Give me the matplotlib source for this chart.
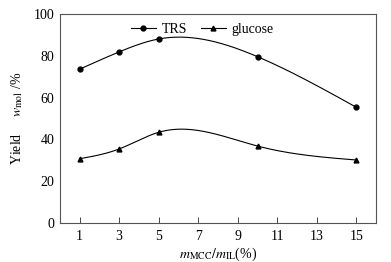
import numpy as np
import matplotlib
matplotlib.use("Agg")
import matplotlib.pyplot as plt

plt.rcParams['font.family'] = ['Liberation Serif', 'DejaVu Serif']
plt.rcParams['mathtext.fontset'] = 'stix'

# --- Data ---
ratio = [1, 3, 5, 10, 15]
trs = [73.7, 82.0, 88.2, 79.7, 55.4]
glucose = [30.7, 35.4, 43.4, 36.8, 30.1]
x_ticks = [1, 3, 5, 7, 9, 11, 13, 15]
y_ticks = [0, 20, 40, 60, 80, 100]


def naturalSpline(x, y, n=200):
	"""Natural cubic spline through the points, sampled on n points."""
	x = np.asarray(x, float)
	y = np.asarray(y, float)
	k = len(x)
	h = np.diff(x)
	A = np.zeros((k, k))
	b = np.zeros(k)
	A[0, 0] = A[-1, -1] = 1
	for i in range(1, k - 1):
		A[i, i - 1] = h[i - 1]
		A[i, i] = 2 * (h[i - 1] + h[i])
		A[i, i + 1] = h[i]
		b[i] = 3 * ((y[i + 1] - y[i]) / h[i] - (y[i] - y[i - 1]) / h[i - 1])
	c = np.linalg.solve(A, b)
	xs = np.linspace(x[0], x[-1], n)
	ys = np.empty_like(xs)
	for j, xv in enumerate(xs):
		i = min(np.searchsorted(x, xv, side='right') - 1, k - 2)
		d = xv - x[i]
		bi = (y[i + 1] - y[i]) / h[i] - h[i] * (2 * c[i] + c[i + 1]) / 3
		di = (c[i + 1] - c[i]) / (3 * h[i])
		ys[j] = y[i] + bi * d + c[i] * d ** 2 + di * d ** 3
	return xs, ys


fig = plt.figure(figsize=(3.91, 2.62), dpi=100)
ax = fig.add_axes([0.153, 0.150, 0.809, 0.795])

for vals, mk, lab in [(trs, 'o', 'TRS'), (glucose, '^', 'glucose')]:
	xs, ys = naturalSpline(ratio, vals)
	ax.plot(xs, ys, color='black', lw=0.8)
	ax.plot(ratio, vals, ls='none', marker=mk, color='black', ms=3.5)
	ax.plot([], [], color='black', lw=0.8, marker=mk, ms=3.5, label=lab)

ax.set_xlim(0, 16)
ax.set_ylim(0, 100)
ax.set_xticks(x_ticks)
ax.set_yticks(y_ticks)
ax.tick_params(direction='in', length=4, width=0.7, labelsize=10, color='#444444')
ax.tick_params(axis='y', length=0, pad=4)
ax.tick_params(axis='x', pad=5)
for s in ax.spines.values():
	s.set_color('#555555')
	s.set_linewidth(0.8)

ax.set_xlabel(r'$m_{\rm MCC}/m_{\rm IL}$(%)', fontsize=10, labelpad=2)
ax.set_ylabel(r'Yield     $w_{\rm mol}$ /%', fontsize=10, labelpad=6)

ax.legend(loc='upper center', bbox_to_anchor=(0.45, 1.02), ncol=2, frameon=False,
          fontsize=10, handlelength=1.8, columnspacing=1.0, handletextpad=0.4)

fig.savefig('out.png', dpi=100)
